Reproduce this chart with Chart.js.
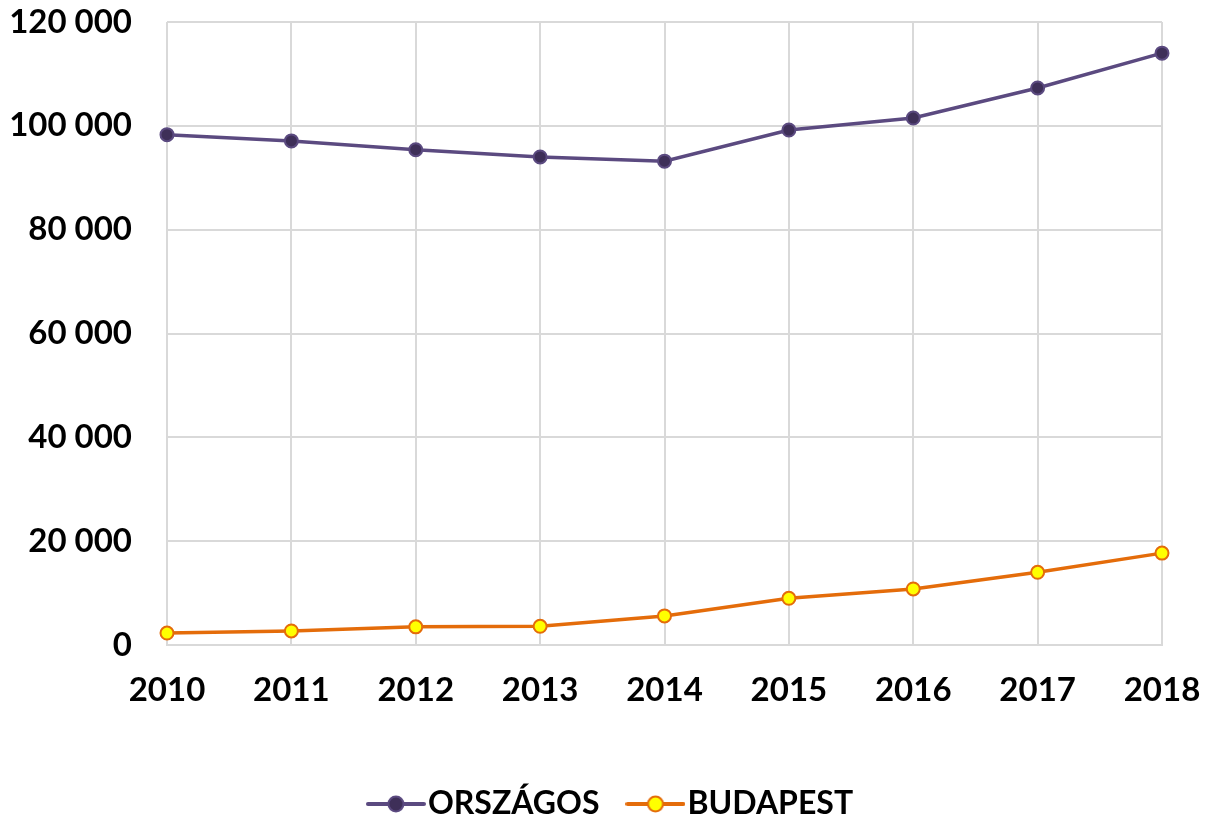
<!DOCTYPE html>
<html>
<head>
<meta charset="utf-8">
<script src="https://cdn.jsdelivr.net/npm/chart.js@4/dist/chart.umd.min.js"></script>
<style>
  html, body { margin: 0; padding: 0; background: #ffffff; }
  #wrap { width: 1209px; height: 818px; position: relative; }
</style>
</head>
<body>
<div id="wrap"><canvas id="chart"></canvas></div>
<script>
// Data
const years = ['2010', '2011', '2012', '2013', '2014', '2015', '2016', '2017', '2018'];
const orszagos = [98300, 97100, 95400, 94000, 93200, 99200, 101500, 107300, 114000];
const budapest = [2300, 2700, 3500, 3600, 5600, 9000, 10800, 14000, 17700];
const yTicks = [0, 20000, 40000, 60000, 80000, 100000, 120000];

const purpleLine = '#5B4A80';
const purpleFill = '#3E2F58';
const orangeLine = '#E46C0A';
const yellowFill = '#FFFF00';

const FONT = 'Lato, "Open Sans", sans-serif';

// Legend marker: short line with a circle in the middle
function legendIcon(lineColor, fillColor) {
  const c = document.createElement('canvas');
  c.width = 60; c.height = 22;
  const ctx = c.getContext('2d');
  ctx.strokeStyle = lineColor;
  ctx.lineWidth = 4;
  ctx.lineCap = 'round';
  ctx.beginPath();
  ctx.moveTo(2, 11); ctx.lineTo(58, 11);
  ctx.stroke();
  ctx.beginPath();
  ctx.arc(30, 11, 7.5, 0, Math.PI * 2);
  ctx.fillStyle = fillColor;
  ctx.fill();
  ctx.lineWidth = 2;
  ctx.stroke();
  return c;
}

const formatThousands = v => String(v).replace(/\B(?=(\d{3})+(?!\d))/g, ' ');

new Chart(document.getElementById('chart'), {
  type: 'line',
  data: {
    labels: years,
    datasets: [
      {
        label: 'ORSZÁGOS',
        data: orszagos,
        borderColor: purpleLine,
        backgroundColor: purpleFill,
        pointBackgroundColor: purpleFill,
        pointBorderColor: purpleLine,
        borderWidth: 3.5,
        pointRadius: 6.5,
        pointBorderWidth: 2,
        tension: 0,
        pointStyle: 'circle'
      },
      {
        label: 'BUDAPEST',
        data: budapest,
        borderColor: orangeLine,
        backgroundColor: yellowFill,
        pointBackgroundColor: yellowFill,
        pointBorderColor: orangeLine,
        borderWidth: 3.5,
        pointRadius: 6.5,
        pointBorderWidth: 2,
        tension: 0,
        pointStyle: 'circle'
      }
    ]
  },
  options: {
    responsive: true,
    maintainAspectRatio: false,
    animation: false,
    layout: { padding: { top: 22, right: -24, left: 0, bottom: -12 } },
    scales: {
      x: {
        offset: false,
        grid: { color: '#D9D9D9', lineWidth: 2, drawTicks: false },
        border: { color: '#D9D9D9', width: 2 },
        ticks: {
          color: '#000',
          padding: 26,
          maxRotation: 0,
          font: { family: FONT, size: 33, weight: 'bold' }
        },
        // fixed overhang so the plot ends where the reference does
        afterFit: axis => {
          axis.paddingLeft = 0;
          axis.paddingRight = 47;
          axis.height = 103;
        }
      },
      y: {
        min: 0,
        max: 120000,
        afterBuildTicks: axis => { axis.ticks = yTicks.map(v => ({ value: v })); },
        grid: { color: '#D9D9D9', lineWidth: 2, drawTicks: false },
        border: { display: false },
        ticks: {
          color: '#000',
          padding: 35,
          callback: v => formatThousands(v),
          font: { family: FONT, size: 33, weight: 'bold' }
        },
        afterFit: axis => {
          axis.paddingTop = 0;
          axis.paddingBottom = 0;
          axis.width = 167;
        }
      }
    },
    plugins: {
      legend: {
        position: 'bottom',
        labels: {
          color: '#000',
          font: { family: FONT, size: 32, weight: 'bold' },
          usePointStyle: true,
          padding: 40,
          generateLabels: chart => chart.data.datasets.map((ds, i) => ({
            text: ds.label,
            pointStyle: legendIcon(ds.borderColor, ds.pointBackgroundColor),
            fontColor: '#000',
            datasetIndex: i,
            hidden: false
          }))
        }
      },
      tooltip: { enabled: false }
    }
  }
});
</script>
</body>
</html>
